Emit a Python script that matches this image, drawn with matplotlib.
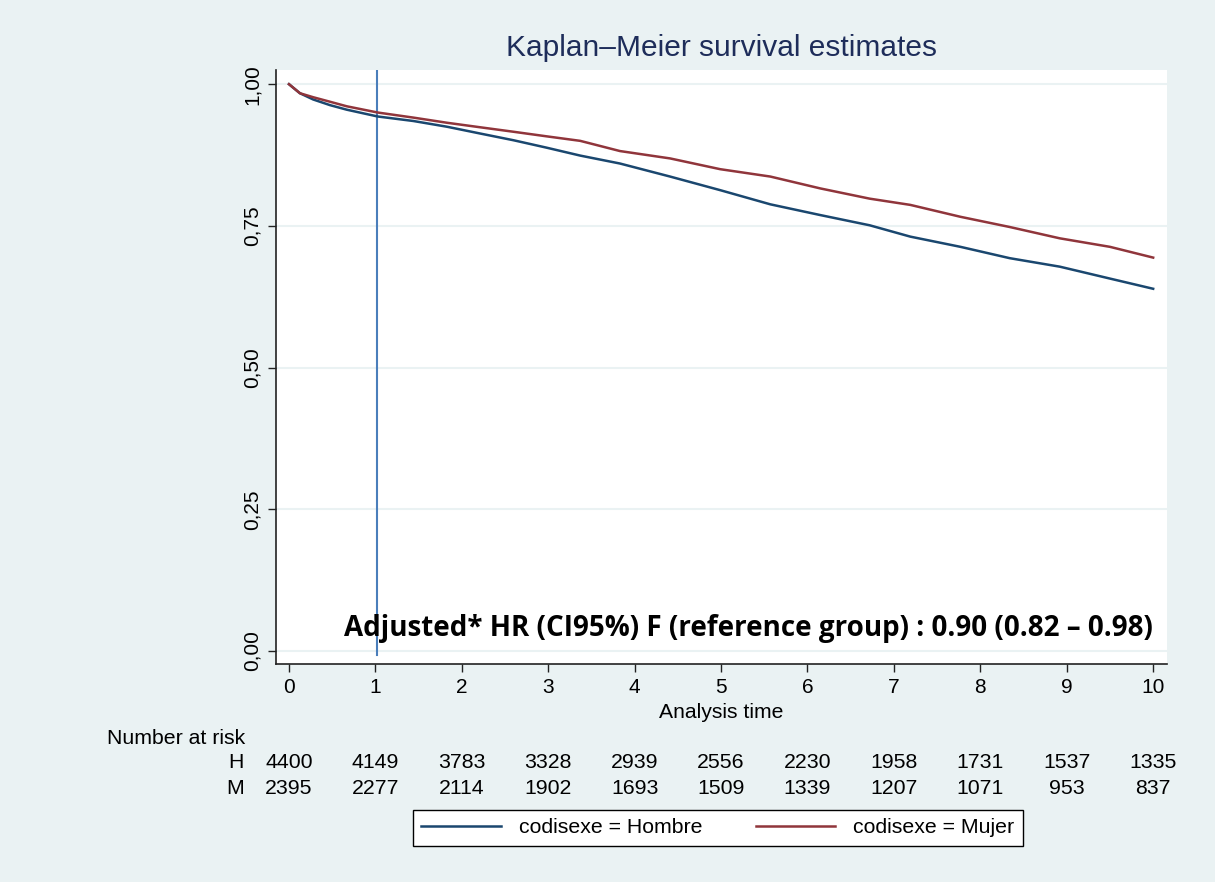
import matplotlib
matplotlib.use("Agg")
import matplotlib.pyplot as plt
from matplotlib.lines import Line2D

plt.rcParams["font.family"] = ["Liberation Sans", "DejaVu Sans"]

# ---- data ----
t_hombre = [0, 0.127, 0.28, 0.475, 0.668, 1.026, 1.44, 1.825, 2.21, 2.6, 2.98, 3.37,
            3.83, 4.41, 4.99, 5.57, 6.15, 6.72, 7.19, 7.77, 8.34, 8.92, 9.50, 10.0]
s_hombre = [1.000, 0.984, 0.973, 0.963, 0.955, 0.943, 0.935, 0.925, 0.913, 0.901, 0.888, 0.874,
            0.860, 0.837, 0.813, 0.788, 0.769, 0.751, 0.731, 0.713, 0.693, 0.678, 0.657, 0.639]
t_mujer = [0, 0.127, 0.28, 0.475, 0.668, 1.026, 1.44, 1.825, 2.21, 2.6, 2.98, 3.37,
           3.83, 4.41, 4.99, 5.57, 6.15, 6.72, 7.19, 7.77, 8.34, 8.92, 9.50, 10.0]
s_mujer = [1.000, 0.984, 0.977, 0.969, 0.961, 0.950, 0.941, 0.932, 0.924, 0.916, 0.908, 0.900,
           0.882, 0.869, 0.850, 0.837, 0.816, 0.798, 0.787, 0.766, 0.748, 0.728, 0.713, 0.694]

risk_times = [0, 1, 2, 3, 4, 5, 6, 7, 8, 9, 10]
risk_h = [4400, 4149, 3783, 3328, 2939, 2556, 2230, 1958, 1731, 1537, 1335]
risk_m = [2395, 2277, 2114, 1902, 1693, 1509, 1339, 1207, 1071, 953, 837]
yticks = [0.0, 0.25, 0.5, 0.75, 1.0]
ytick_labels = ["0,00", "0,25", "0,50", "0,75", "1,00"]
vline_x = 1.02

BG = "#EAF2F3"
BLUE = "#1a476f"
RED = "#90353b"

W, H = 1215, 882
fig = plt.figure(figsize=(W / 100, H / 100), dpi=100, facecolor=BG)

# axes: left 276, right 1167, top 70, bottom 664 (pixels)
ax = fig.add_axes([276 / W, 1 - 664 / H, (1167 - 276) / W, (664 - 70) / H])
ax.set_facecolor("white")
ax.set_xlim(-0.15, 10.16)
ax.set_ylim(-0.023, 1.025)

for y in yticks:
    ax.axhline(y, color=BG, lw=1.5, zorder=0)

ax.plot(t_hombre, s_hombre, color=BLUE, lw=1.8, zorder=3)
ax.plot(t_mujer, s_mujer, color=RED, lw=1.8, zorder=3)
ax.plot([vline_x, vline_x], [-0.007, 1.025], color="#4a7ebb", lw=1.5, zorder=2)

for s in ["top", "right"]:
    ax.spines[s].set_visible(False)
for s in ["left", "bottom"]:
    ax.spines[s].set_color("#222222")
    ax.spines[s].set_linewidth(1.2)

ax.set_xticks(risk_times)
ax.set_xticklabels([str(v) for v in risk_times])
ax.set_yticks(yticks)
ax.set_yticklabels(ytick_labels, rotation=90, va="center")
ax.tick_params(axis="both", labelsize=15, length=6, width=1, color="#222222", pad=4)

fig.text(721 / W, 1 - 712 / H, "Analysis time", ha="center", va="center", fontsize=15.2)

fig.text(721 / W, 1 - 48 / H, "Kaplan\u2013Meier survival estimates", ha="center", va="center",
         fontsize=21.5, color="#1e2d5a")

ax.text(10.0, 0.04, "Adjusted* HR (CI95%) F (reference group) : 0.90 (0.82 \u2013 0.98)",
        ha="right", va="center", fontsize=20, fontweight="bold", family="Open Sans",
        color="black", zorder=5)

# number at risk table
fs = 15.3
fig.text(107 / W, 1 - 739 / H, "Number at risk", ha="left", va="center", fontsize=fs)
fig.text(244 / W, 1 - 763 / H, "H", ha="right", va="center", fontsize=fs)
fig.text(244 / W, 1 - 788 / H, "M", ha="right", va="center", fontsize=fs)
trans = matplotlib.transforms.blended_transform_factory(ax.transData, fig.transFigure)
for t, h, m in zip(risk_times, risk_h, risk_m):
    fig.text(t, 1 - 763 / H, str(h), ha="center", va="center", fontsize=fs, transform=trans)
    fig.text(t, 1 - 788 / H, str(m), ha="center", va="center", fontsize=fs, transform=trans)

# legend
handles = [Line2D([0], [0], color=BLUE, lw=1.8), Line2D([0], [0], color=RED, lw=1.8)]
leg = fig.legend(handles, ["codisexe = Hombre", "codisexe = Mujer"], loc="center",
                 bbox_to_anchor=(718 / W, 1 - 827.5 / H), ncol=2, fontsize=15.3,
                 frameon=True, fancybox=False, handlelength=3.75, handletextpad=0.85,
                 columnspacing=2.5, borderpad=0.4, borderaxespad=0)
leg.get_frame().set_edgecolor("black")
leg.get_frame().set_linewidth(1.0)
leg.get_frame().set_facecolor("white")
leg.get_frame().set_alpha(1)

fig.savefig("out.png", dpi=100, facecolor=BG)
